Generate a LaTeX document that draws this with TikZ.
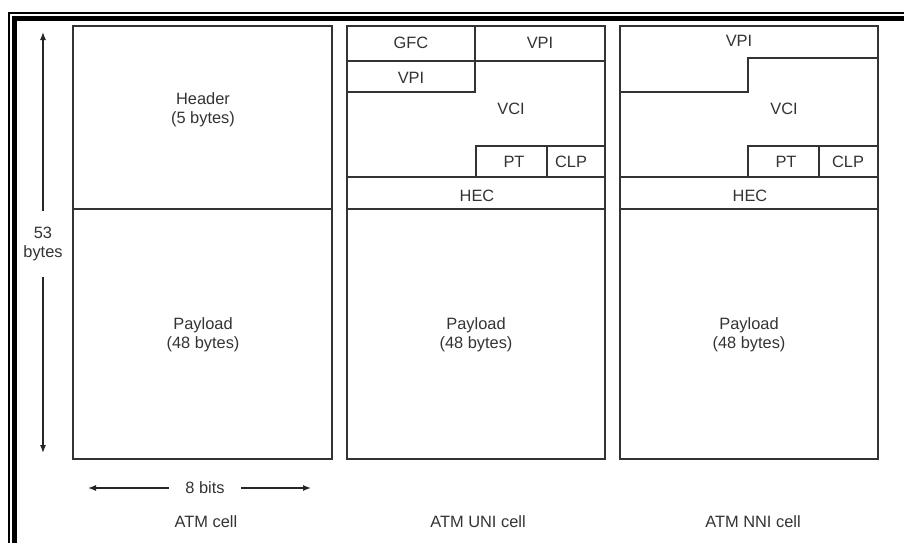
\documentclass[tikz,border=0pt]{standalone}
\usepackage{fontspec}
\setmainfont{Liberation Sans}
\usetikzlibrary{arrows.meta}
\tikzset{
  lbl/.style={font=\fontsize{12.3}{14.6}\selectfont, text=black!80, inner sep=0pt, align=center},
  dimlbl/.style={lbl, inner sep=12pt},
  cellline/.style={draw=black!80, line width=1.1pt},
  dimarrow/.style={-{Latex[length=6pt,width=4.5pt]}, draw=black!85, line width=0.9pt},
}
\begin{document}
\begin{tikzpicture}[x=0.75pt, y=-0.75pt]
  \useasboundingbox (0,0) rectangle (904,543);
  % frame
  \draw[line width=1.5pt, line join=miter] (9,543) -- (9,13) -- (904,13);
  \draw[line width=4pt, line join=miter] (14.7,543) -- (14.7,18.7) -- (904,18.7);
  % ATM cell
  \draw[cellline] (73,26) rectangle (332,459);
  \draw[cellline] (73,209) -- (332,209);
  % ATM UNI cell
  \draw[cellline] (347,26) rectangle (605,459);
  \draw[cellline] (347,61) -- (605,61);
  \draw[cellline] (475,26) -- (475,92) -- (347,92);
  \draw[cellline] (476,177) -- (476,146) -- (605,146);
  \draw[cellline] (547,146) -- (547,177);
  \draw[cellline] (347,177) -- (605,177);
  \draw[cellline] (347,209) -- (605,209);
  % ATM NNI cell
  \draw[cellline] (620,26) rectangle (878,459);
  \draw[cellline] (878,58) -- (748,58) -- (748,92) -- (620,92);
  \draw[cellline] (748,177) -- (748,146) -- (878,146);
  \draw[cellline] (819,146) -- (819,177);
  \draw[cellline] (620,177) -- (878,177);
  \draw[cellline] (620,209) -- (878,209);
  % field labels
  \draw
    (203,110) node[lbl] (hdr){Header\\(5 bytes)}
    (203,335) node[lbl] (pay1){Payload\\(48 bytes)}
    (411,43) node[lbl] (gfc){GFC}
    (540,43) node[lbl] (vpi1){VPI}
    (411,78) node[lbl] (vpi2){VPI}
    (511,109) node[lbl] (vci1){VCI}
    (514,162) node[lbl] (pt1){PT}
    (571,162) node[lbl] (clp1){CLP}
    (477,196) node[lbl] (hec1){HEC}
    (476,335) node[lbl] (pay2){Payload\\(48 bytes)}
    (739,41) node[lbl] (vpi3){VPI}
    (784,109) node[lbl] (vci2){VCI}
    (786,162) node[lbl] (pt2){PT}
    (848,162) node[lbl] (clp2){CLP}
    (750,196) node[lbl] (hec2){HEC}
    (749,335) node[lbl] (pay3){Payload\\(48 bytes)}
    (206,522) node[lbl] (cell){ATM cell}
    (478,522) node[lbl] (uni){ATM UNI cell}
    (753,522) node[lbl] (nni){ATM NNI cell};
  % size arrows
  \node[dimlbl] (bytes) at (43,244) {53\\bytes};
  \node[dimlbl] (bits) at (205,488) {8 bits};
  \coordinate (btop) at (43,32);
  \coordinate (bbot) at (43,453);
  \coordinate (bleft) at (88,488);
  \coordinate (bright) at (311,488);
  \begin{scope}[dimarrow]
    \draw (bytes) -- (btop);
    \draw (bytes) -- (bbot);
    \draw (bits) -- (bleft);
    \draw (bits) -- (bright);
  \end{scope}
\end{tikzpicture}
\end{document}
